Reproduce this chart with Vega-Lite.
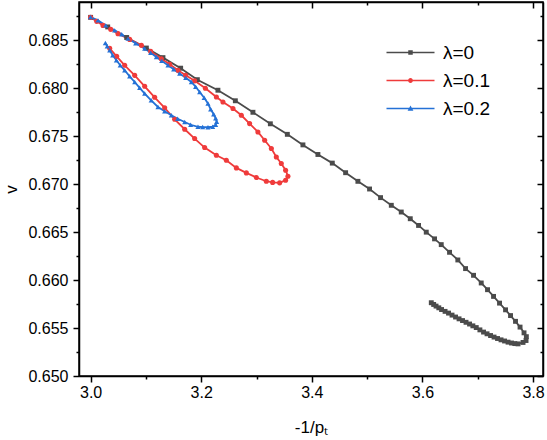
{
  "$schema": "https://vega.github.io/schema/vega-lite/v6.json",
  "width": 464,
  "height": 374,
  "autosize": {"type": "none"},
  "padding": {"left": 79, "top": 2, "right": 4, "bottom": 64},
  "background": "white",
  "config": {
    "font": "Liberation Sans",
    "view": {"stroke": "black", "strokeWidth": 1.5},
    "axis": {"grid": false, "domainColor": "black", "domainWidth": 1.5, "tickColor": "black", "tickWidth": 1.5, "labelColor": "black", "labelFont": "Liberation Sans", "labelFontSize": 16, "titleFont": "Liberation Sans", "titleFontSize": 17, "titleFontWeight": "normal", "titleColor": "black"}
  },
  "data": {"values": [
    {"s":"λ=0","i":0,"x":3.000,"v":0.6874},
    {"s":"λ=0","i":1,"x":3.0309,"v":0.6864},
    {"s":"λ=0","i":2,"x":3.0652,"v":0.6853},
    {"s":"λ=0","i":3,"x":3.1008,"v":0.6842},
    {"s":"λ=0","i":4,"x":3.1308,"v":0.6832},
    {"s":"λ=0","i":5,"x":3.1628,"v":0.6821},
    {"s":"λ=0","i":6,"x":3.1930,"v":0.6809},
    {"s":"λ=0","i":7,"x":3.2302,"v":0.6798},
    {"s":"λ=0","i":8,"x":3.2617,"v":0.6787},
    {"s":"λ=0","i":9,"x":3.2935,"v":0.6775},
    {"s":"λ=0","i":10,"x":3.3250,"v":0.6763},
    {"s":"λ=0","i":11,"x":3.3557,"v":0.6752},
    {"s":"λ=0","i":12,"x":3.3839,"v":0.6741},
    {"s":"λ=0","i":13,"x":3.4110,"v":0.6731},
    {"s":"λ=0","i":14,"x":3.4370,"v":0.6722},
    {"s":"λ=0","i":15,"x":3.4611,"v":0.6712},
    {"s":"λ=0","i":16,"x":3.4833,"v":0.6703},
    {"s":"λ=0","i":17,"x":3.5044,"v":0.6695},
    {"s":"λ=0","i":18,"x":3.5243,"v":0.6686},
    {"s":"λ=0","i":19,"x":3.5437,"v":0.6678},
    {"s":"λ=0","i":20,"x":3.5617,"v":0.6671},
    {"s":"λ=0","i":21,"x":3.5780,"v":0.6664},
    {"s":"λ=0","i":22,"x":3.5930,"v":0.6657},
    {"s":"λ=0","i":23,"x":3.6069,"v":0.6650},
    {"s":"λ=0","i":24,"x":3.6219,"v":0.6643},
    {"s":"λ=0","i":25,"x":3.6340,"v":0.6637},
    {"s":"λ=0","i":26,"x":3.6490,"v":0.6629},
    {"s":"λ=0","i":27,"x":3.6640,"v":0.6621},
    {"s":"λ=0","i":28,"x":3.6780,"v":0.6612},
    {"s":"λ=0","i":29,"x":3.6924,"v":0.6605},
    {"s":"λ=0","i":30,"x":3.7063,"v":0.6597},
    {"s":"λ=0","i":31,"x":3.7177,"v":0.6590},
    {"s":"λ=0","i":32,"x":3.7286,"v":0.6583},
    {"s":"λ=0","i":33,"x":3.7394,"v":0.6576},
    {"s":"λ=0","i":34,"x":3.7503,"v":0.6569},
    {"s":"λ=0","i":35,"x":3.7593,"v":0.6563},
    {"s":"λ=0","i":36,"x":3.7683,"v":0.6557},
    {"s":"λ=0","i":37,"x":3.7765,"v":0.6551},
    {"s":"λ=0","i":38,"x":3.7837,"v":0.6545},
    {"s":"λ=0","i":39,"x":3.7879,"v":0.6541},
    {"s":"λ=0","i":40,"x":3.7873,"v":0.6537},
    {"s":"λ=0","i":41,"x":3.7819,"v":0.6535},
    {"s":"λ=0","i":42,"x":3.7729,"v":0.65335},
    {"s":"λ=0","i":43,"x":3.7670,"v":0.65338},
    {"s":"λ=0","i":44,"x":3.7611,"v":0.65344},
    {"s":"λ=0","i":45,"x":3.7548,"v":0.65353},
    {"s":"λ=0","i":46,"x":3.7485,"v":0.65365},
    {"s":"λ=0","i":47,"x":3.7421,"v":0.65377},
    {"s":"λ=0","i":48,"x":3.7358,"v":0.65391},
    {"s":"λ=0","i":49,"x":3.7295,"v":0.65406},
    {"s":"λ=0","i":50,"x":3.7232,"v":0.65422},
    {"s":"λ=0","i":51,"x":3.7168,"v":0.65440},
    {"s":"λ=0","i":52,"x":3.7105,"v":0.65458},
    {"s":"λ=0","i":53,"x":3.7039,"v":0.65481},
    {"s":"λ=0","i":54,"x":3.6973,"v":0.65505},
    {"s":"λ=0","i":55,"x":3.6912,"v":0.65523},
    {"s":"λ=0","i":56,"x":3.6852,"v":0.65542},
    {"s":"λ=0","i":57,"x":3.6788,"v":0.65560},
    {"s":"λ=0","i":58,"x":3.6725,"v":0.65578},
    {"s":"λ=0","i":59,"x":3.6662,"v":0.65596},
    {"s":"λ=0","i":60,"x":3.6599,"v":0.65615},
    {"s":"λ=0","i":61,"x":3.6535,"v":0.65635},
    {"s":"λ=0","i":62,"x":3.6472,"v":0.65656},
    {"s":"λ=0","i":63,"x":3.6409,"v":0.65674},
    {"s":"λ=0","i":64,"x":3.6346,"v":0.65693},
    {"s":"λ=0","i":65,"x":3.6296,"v":0.65711},
    {"s":"λ=0","i":66,"x":3.6246,"v":0.65729},
    {"s":"λ=0","i":67,"x":3.6203,"v":0.65746},
    {"s":"λ=0","i":68,"x":3.6160,"v":0.65764},
    {"s":"λ=0.1","i":0,"x":3.000,"v":0.6874},
    {"s":"λ=0.1","i":1,"x":3.0110,"v":0.68698},
    {"s":"λ=0.1","i":2,"x":3.0224,"v":0.68656},
    {"s":"λ=0.1","i":3,"x":3.0363,"v":0.68615},
    {"s":"λ=0.1","i":4,"x":3.0495,"v":0.68570},
    {"s":"λ=0.1","i":5,"x":3.0706,"v":0.68510},
    {"s":"λ=0.1","i":6,"x":3.0918,"v":0.68448},
    {"s":"λ=0.1","i":7,"x":3.1086,"v":0.68385},
    {"s":"λ=0.1","i":8,"x":3.1279,"v":0.68309},
    {"s":"λ=0.1","i":9,"x":3.1429,"v":0.68250},
    {"s":"λ=0.1","i":10,"x":3.1579,"v":0.68188},
    {"s":"λ=0.1","i":11,"x":3.1719,"v":0.68135},
    {"s":"λ=0.1","i":12,"x":3.1881,"v":0.68078},
    {"s":"λ=0.1","i":13,"x":3.2075,"v":0.68000},
    {"s":"λ=0.1","i":14,"x":3.2274,"v":0.67909},
    {"s":"λ=0.1","i":15,"x":3.2393,"v":0.67857},
    {"s":"λ=0.1","i":16,"x":3.2574,"v":0.67789},
    {"s":"λ=0.1","i":17,"x":3.2725,"v":0.67719},
    {"s":"λ=0.1","i":18,"x":3.2875,"v":0.67632},
    {"s":"λ=0.1","i":19,"x":3.3025,"v":0.67545},
    {"s":"λ=0.1","i":20,"x":3.3147,"v":0.67458},
    {"s":"λ=0.1","i":21,"x":3.3268,"v":0.67372},
    {"s":"λ=0.1","i":22,"x":3.3358,"v":0.67284},
    {"s":"λ=0.1","i":23,"x":3.3448,"v":0.67216},
    {"s":"λ=0.1","i":24,"x":3.3526,"v":0.67146},
    {"s":"λ=0.1","i":25,"x":3.3568,"v":0.67083},
    {"s":"λ=0.1","i":26,"x":3.3526,"v":0.67042},
    {"s":"λ=0.1","i":27,"x":3.3418,"v":0.67014},
    {"s":"λ=0.1","i":28,"x":3.3291,"v":0.67019},
    {"s":"λ=0.1","i":29,"x":3.3177,"v":0.67031},
    {"s":"λ=0.1","i":30,"x":3.2996,"v":0.67070},
    {"s":"λ=0.1","i":31,"x":3.2816,"v":0.67118},
    {"s":"λ=0.1","i":32,"x":3.2635,"v":0.67170},
    {"s":"λ=0.1","i":33,"x":3.2454,"v":0.67250},
    {"s":"λ=0.1","i":34,"x":3.2274,"v":0.67302},
    {"s":"λ=0.1","i":35,"x":3.2062,"v":0.67382},
    {"s":"λ=0.1","i":36,"x":3.1881,"v":0.67476},
    {"s":"λ=0.1","i":37,"x":3.1701,"v":0.67573},
    {"s":"λ=0.1","i":38,"x":3.1520,"v":0.67677},
    {"s":"λ=0.1","i":39,"x":3.1339,"v":0.67797},
    {"s":"λ=0.1","i":40,"x":3.1158,"v":0.67906},
    {"s":"λ=0.1","i":41,"x":3.0978,"v":0.68021},
    {"s":"λ=0.1","i":42,"x":3.0797,"v":0.68135},
    {"s":"λ=0.1","i":43,"x":3.0616,"v":0.68240},
    {"s":"λ=0.1","i":44,"x":3.0471,"v":0.68333},
    {"s":"λ=0.1","i":45,"x":3.0345,"v":0.68417},
    {"s":"λ=0.2","i":0,"x":3.000,"v":0.68743},
    {"s":"λ=0.2","i":1,"x":3.0133,"v":0.68708},
    {"s":"λ=0.2","i":2,"x":3.0273,"v":0.68656},
    {"s":"λ=0.2","i":3,"x":3.0435,"v":0.68604},
    {"s":"λ=0.2","i":4,"x":3.0562,"v":0.68563},
    {"s":"λ=0.2","i":5,"x":3.0676,"v":0.68518},
    {"s":"λ=0.2","i":6,"x":3.0815,"v":0.68469},
    {"s":"λ=0.2","i":7,"x":3.0978,"v":0.68414},
    {"s":"λ=0.2","i":8,"x":3.1086,"v":0.68370},
    {"s":"λ=0.2","i":9,"x":3.1189,"v":0.68326},
    {"s":"λ=0.2","i":10,"x":3.1285,"v":0.68286},
    {"s":"λ=0.2","i":11,"x":3.1399,"v":0.68240},
    {"s":"λ=0.2","i":12,"x":3.1502,"v":0.68198},
    {"s":"λ=0.2","i":13,"x":3.1610,"v":0.68153},
    {"s":"λ=0.2","i":14,"x":3.1719,"v":0.68109},
    {"s":"λ=0.2","i":15,"x":3.1822,"v":0.68066},
    {"s":"λ=0.2","i":16,"x":3.1899,"v":0.68016},
    {"s":"λ=0.2","i":17,"x":3.1972,"v":0.67961},
    {"s":"λ=0.2","i":18,"x":3.2053,"v":0.67901},
    {"s":"λ=0.2","i":19,"x":3.2122,"v":0.67841},
    {"s":"λ=0.2","i":20,"x":3.2171,"v":0.67781},
    {"s":"λ=0.2","i":21,"x":3.2225,"v":0.67729},
    {"s":"λ=0.2","i":22,"x":3.2261,"v":0.67688},
    {"s":"λ=0.2","i":23,"x":3.2279,"v":0.67651},
    {"s":"λ=0.2","i":24,"x":3.2261,"v":0.67620},
    {"s":"λ=0.2","i":25,"x":3.2207,"v":0.67599},
    {"s":"λ=0.2","i":26,"x":3.2122,"v":0.67594},
    {"s":"λ=0.2","i":27,"x":3.2026,"v":0.67596},
    {"s":"λ=0.2","i":28,"x":3.1941,"v":0.67599},
    {"s":"λ=0.2","i":29,"x":3.1809,"v":0.67620},
    {"s":"λ=0.2","i":30,"x":3.1701,"v":0.67649},
    {"s":"λ=0.2","i":31,"x":3.1574,"v":0.67682},
    {"s":"λ=0.2","i":32,"x":3.1460,"v":0.67719},
    {"s":"λ=0.2","i":33,"x":3.1339,"v":0.67760},
    {"s":"λ=0.2","i":34,"x":3.1218,"v":0.67805},
    {"s":"λ=0.2","i":35,"x":3.1095,"v":0.67875},
    {"s":"λ=0.2","i":36,"x":3.0978,"v":0.67945},
    {"s":"λ=0.2","i":37,"x":3.0887,"v":0.68005},
    {"s":"λ=0.2","i":38,"x":3.0797,"v":0.68066},
    {"s":"λ=0.2","i":39,"x":3.0706,"v":0.68125},
    {"s":"λ=0.2","i":40,"x":3.0616,"v":0.68188},
    {"s":"λ=0.2","i":41,"x":3.0535,"v":0.68240},
    {"s":"λ=0.2","i":42,"x":3.0466,"v":0.68292},
    {"s":"λ=0.2","i":43,"x":3.0399,"v":0.68344},
    {"s":"λ=0.2","i":44,"x":3.0345,"v":0.68396},
    {"s":"λ=0.2","i":45,"x":3.0300,"v":0.68438},
    {"s":"λ=0.2","i":46,"x":3.0267,"v":0.68472}
  ]},
  "layer": [
    {
      "transform": [{"filter": "datum.i < 0"}],
      "mark": {"type": "point", "filled": true, "opacity": 1},
      "encoding": {
        "color": {"field": "s", "type": "nominal",
                  "scale": {"domain": ["λ=0", "λ=0.1", "λ=0.2"], "range": ["#4b4b4b", "#ef3b3b", "#2471d6"]},
                  "legend": {"orient": "none", "legendX": 322, "legendY": 41, "title": null, "labelFontSize": 19, "labelFont": "Liberation Sans", "labelColor": "black", "symbolSize": 100, "labelOffset": 23, "rowPadding": 8, "symbolStrokeWidth": 0, "padding": 0, "symbolOpacity": 1}},
        "shape": {"field": "s", "type": "nominal",
                  "scale": {"domain": ["λ=0", "λ=0.1", "λ=0.2"], "range": [
                    "M-4.8,-0.16H4.8V0.16H-4.8Z M-0.45,-0.45H0.45V0.45H-0.45Z",
                    "M-4.8,-0.16H4.8V0.16H-4.8Z M0.48,0A0.48,0.48 0 1,1 -0.48,0A0.48,0.48 0 1,1 0.48,0Z",
                    "M-4.8,-0.16H4.8V0.16H-4.8Z M0,-0.62L0.58,0.46H-0.58Z"]},
                  "legend": {"orient": "none", "legendX": 322, "legendY": 41, "title": null, "labelFontSize": 19, "labelFont": "Liberation Sans", "labelColor": "black", "symbolSize": 100, "labelOffset": 23, "rowPadding": 8, "symbolStrokeWidth": 0, "padding": 0, "symbolOpacity": 1}}
      }
    },
    {
      "mark": {"type": "line", "strokeWidth": 1.8},
      "encoding": {
        "x": {"field": "x", "type": "quantitative", "scale": {"domain": [2.979, 3.818], "nice": false, "zero": false},
              "axis": {"orient": "bottom", "values": [3.0, 3.2, 3.4, 3.6, 3.8], "format": ".1f", "tickSize": 6, "labelPadding": 2, "labelFlush": false, "labelOverlap": false, "title": "-1/pₜ", "titlePadding": 19}},
        "y": {"field": "v", "type": "quantitative", "scale": {"domain": [0.650, 0.689], "nice": false, "zero": false},
              "axis": {"orient": "left", "values": [0.650, 0.655, 0.660, 0.665, 0.670, 0.675, 0.680, 0.685], "format": ".3f", "tickSize": 6, "labelPadding": 5, "labelFlush": false, "labelOverlap": false, "title": "v", "titlePadding": 7}},
        "color": {"field": "s", "type": "nominal"},
        "order": {"field": "i", "type": "quantitative"}
      }
    },
    {
      "transform": [{"filter": "datum.s === 'λ=0'"}],
      "mark": {"type": "point", "shape": "square", "filled": true, "opacity": 1, "size": 24},
      "encoding": {
        "x": {"field": "x", "type": "quantitative", "axis": {"orient": "bottom", "values": [3.1, 3.3, 3.5, 3.7], "tickSize": 3, "labels": false, "domain": false, "title": null}},
        "y": {"field": "v", "type": "quantitative", "axis": {"orient": "left", "values": [0.6525, 0.6575, 0.6625, 0.6675, 0.6725, 0.6775, 0.6825, 0.6875], "tickSize": 3, "labels": false, "domain": false, "title": null}},
        "color": {"field": "s", "type": "nominal"}
      }
    },
    {
      "transform": [{"filter": "datum.s === 'λ=0.1'"}],
      "mark": {"type": "point", "shape": "circle", "filled": true, "opacity": 1, "size": 26},
      "encoding": {
        "x": {"field": "x", "type": "quantitative", "axis": {"orient": "top", "values": [3.0, 3.2, 3.4, 3.6, 3.8], "tickSize": -6, "labels": false, "domain": true, "title": null}},
        "y": {"field": "v", "type": "quantitative", "axis": {"orient": "right", "values": [0.650, 0.655, 0.660, 0.665, 0.670, 0.675, 0.680, 0.685], "tickSize": -6, "labels": false, "domain": true, "title": null}},
        "color": {"field": "s", "type": "nominal"}
      }
    },
    {
      "transform": [{"filter": "datum.s === 'λ=0.2'"}],
      "mark": {"type": "point", "shape": "triangle-up", "filled": true, "opacity": 1, "size": 26},
      "encoding": {
        "x": {"field": "x", "type": "quantitative", "axis": {"orient": "top", "values": [3.1, 3.3, 3.5, 3.7], "tickSize": -3, "labels": false, "domain": false, "title": null}},
        "y": {"field": "v", "type": "quantitative", "axis": {"orient": "right", "values": [0.6525, 0.6575, 0.6625, 0.6675, 0.6725, 0.6775, 0.6825, 0.6875], "tickSize": -3, "labels": false, "domain": false, "title": null}},
        "color": {"field": "s", "type": "nominal"}
      }
    }
  ],
  "resolve": {"axis": {"x": "independent", "y": "independent"}}
}
